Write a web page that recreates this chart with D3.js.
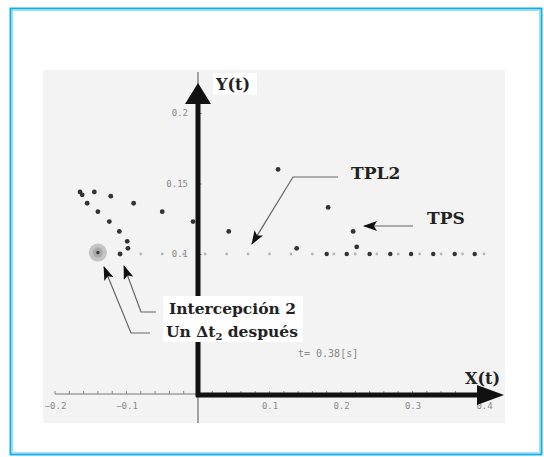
<!DOCTYPE html>
<html>
<head>
<meta charset="utf-8">
<script src="https://cdn.jsdelivr.net/npm/d3@7"></script>
<style>
  body { margin: 0; background: #fff; }
  .tick text { font-family: "DejaVu Sans Mono", monospace; fill: #8a8a8a; }
  .lbl { font-family: "DejaVu Serif", "Liberation Serif", serif; font-weight: bold; fill: #222; }
</style>
</head>
<body>
<script>
      // Width and height
      var w = 544;
      var h = 457;

      // tick values / labels
      var xTicks = [-0.2, -0.1, 0.1, 0.2, 0.3, 0.4];
      var yTicks = [0.1, 0.15, 0.2];
      var xMinor = [-0.2, -0.18, -0.16, -0.14, -0.12, -0.1, -0.08, -0.06, -0.04, -0.02,
                    0.02, 0.04, 0.06, 0.08, 0.1, 0.12, 0.14, 0.16, 0.18, 0.2, 0.22, 0.24, 0.26, 0.28, 0.3, 0.32, 0.34, 0.36];

      // scattered points (TPL2 trajectory samples)
      var ptsX = [-0.165, -0.162, -0.145, -0.122, -0.155, -0.090, -0.140, -0.050, -0.124, -0.007,
                  -0.110, -0.099, -0.098, -0.109, 0.043, 0.112, 0.182, 0.217, 0.222, 0.138];
      var ptsY = [0.144, 0.142, 0.144, 0.141, 0.136, 0.136, 0.130, 0.130, 0.123, 0.123,
                  0.116, 0.109, 0.104, 0.100, 0.116, 0.160, 0.133, 0.116, 0.105, 0.104];

      // light dotted line at y = 0.1
      var lineX = [-0.08, -0.05, -0.02, 0.01, 0.04, 0.07, 0.10, 0.13, 0.16, 0.19, 0.22,
                   0.25, 0.28, 0.31, 0.34, 0.37, 0.40];
      var lineY = 0.1;
      // TPS samples on the line
      var tpsX = [0.180, 0.208, 0.240, 0.269, 0.298, 0.329, 0.359, 0.387];

      // interception point
      var interX = -0.140, interY = 0.101;

      var x = d3.scaleLinear().domain([0, 0.1]).range([198, 269.5]);
      var y = d3.scaleLinear().domain([0, 0.2]).range([395, 113]);

      var svg = d3.select("body").append("svg")
          .attr("width", w)
          .attr("height", h);

      // frame
      svg.append("rect").attr("x", 10.5).attr("y", 8.5).attr("width", 531).attr("height", 446)
          .attr("fill", "#fff").attr("stroke", "#10aee6").attr("stroke-width", 2);
      svg.append("rect").attr("x", 12.5).attr("y", 10.5).attr("width", 527).attr("height", 442)
          .attr("fill", "none").attr("stroke", "#9ee0f6").attr("stroke-width", 1);

      // plot background
      svg.append("rect").attr("x", 43).attr("y", 70).attr("width", 462).attr("height", 353)
          .attr("fill", "#f3f3f3");

      var defs = svg.append("defs");
      defs.append("marker").attr("id", "ah")
          .attr("viewBox", "0 0 14 10").attr("refX", 13).attr("refY", 5)
          .attr("markerWidth", 14).attr("markerHeight", 10).attr("orient", "auto")
          .attr("markerUnits", "userSpaceOnUse")
        .append("path").attr("d", "M0,0L14,5L0,10L3,5z").attr("fill", "#111");

      // thin axis lines
      svg.append("line").attr("x1", x(-0.2)).attr("x2", x(0)).attr("y1", y(0) - 1).attr("y2", y(0) - 1)
          .attr("stroke", "#777").attr("stroke-width", 1);
      svg.append("line").attr("x1", x(0)).attr("x2", x(0)).attr("y1", 72).attr("y2", 423)
          .attr("stroke", "#888").attr("stroke-width", 1.5);

      // minor ticks on x
      svg.append("g").selectAll("line").data(xMinor).enter().append("line")
          .attr("x1", function(d) { return x(d); }).attr("x2", function(d) { return x(d); })
          .attr("y1", y(0) - 4).attr("y2", y(0) - 1)
          .attr("stroke", "#888").attr("stroke-width", 1);

      // axes tick labels
      var gx = svg.append("g").attr("transform", "translate(0," + (y(0) + 4) + ")")
          .call(d3.axisBottom(x).tickValues(xTicks).tickSize(0).tickPadding(4)
                .tickFormat(function(d) { return d3.format(".1f")(d); }));
      gx.select(".domain").remove();
      gx.selectAll("text").attr("font-size", 9);

      var gy = svg.append("g").attr("transform", "translate(" + x(0) + ",0)")
          .call(d3.axisLeft(y).tickValues(yTicks).tickSize(-4).tickPadding(10)
                .tickFormat(function(d) { return d === 0.15 ? "0.15" : d3.format(".1f")(d); }));
      gy.select(".domain").remove();
      gy.selectAll("line").attr("stroke", "#999");
      gy.selectAll("text").attr("font-size", 9);

      // dotted line y=0.1
      svg.append("g").selectAll("circle").data(lineX).enter().append("circle")
          .attr("cx", function(d) { return x(d); }).attr("cy", y(lineY))
          .attr("r", 1.4).attr("fill", "#b5b5b5");

      // interception halo
      svg.append("circle").attr("cx", x(interX)).attr("cy", y(interY)).attr("r", 9)
          .attr("fill", "#c4c4c4");
      svg.append("circle").attr("cx", x(interX)).attr("cy", y(interY)).attr("r", 5)
          .attr("fill", "#aaa");
      svg.append("circle").attr("cx", x(interX)).attr("cy", y(interY)).attr("r", 1.8)
          .attr("fill", "#444");

      // scattered points
      svg.append("g").selectAll("circle").data(d3.range(ptsX.length)).enter().append("circle")
          .attr("cx", function(i) { return x(ptsX[i]); })
          .attr("cy", function(i) { return y(ptsY[i]); })
          .attr("r", 2.4).attr("fill", "#333");

      svg.append("g").selectAll("circle").data(tpsX).enter().append("circle")
          .attr("cx", function(d) { return x(d); }).attr("cy", y(lineY))
          .attr("r", 2.2).attr("fill", "#333");

      // thick axes
      svg.append("line").attr("x1", x(0)).attr("x2", x(0)).attr("y1", 100).attr("y2", y(0) + 2)
          .attr("stroke", "#111").attr("stroke-width", 5);
      svg.append("path").attr("d", "M" + x(0) + ",83L" + (x(0) - 13) + ",104L" + (x(0) + 13) + ",104Z")
          .attr("fill", "#111");
      svg.append("line").attr("x1", x(0) - 2).attr("x2", 480).attr("y1", y(0)).attr("y2", y(0))
          .attr("stroke", "#111").attr("stroke-width", 5);
      svg.append("path").attr("d", "M504," + y(0) + "L477," + (y(0) - 10) + "L477," + (y(0) + 10) + "Z")
          .attr("fill", "#111");

      // labels
      function label(txt, lx, ly, size) {
        var t = svg.append("text").attr("class", "lbl").attr("x", lx).attr("y", ly)
            .attr("font-size", size).text(txt);
        return t;
      }
      svg.append("rect").attr("x", 213).attr("y", 73).attr("width", 44).attr("height", 22).attr("fill", "#fff");
      label("Y(t)", 216, 90, 16);
      label("X(t)", 465, 384, 16);
      label("TPL2", 351, 179, 17);
      label("TPS", 427, 224, 17);

      svg.append("rect").attr("x", 163).attr("y", 296).attr("width", 140).attr("height", 46).attr("fill", "#fff");
      label("Intercepción 2", 169, 314, 15.5);
      var t2 = label("Un ", 166, 337, 15.5);
      t2.append("tspan").text("Δt");
      t2.append("tspan").attr("font-size", 10).attr("dy", 3).text("2");
      t2.append("tspan").attr("dy", -3).text(" después");

      svg.append("text").attr("x", 298).attr("y", 357)
          .attr("font-family", "DejaVu Sans Mono, monospace").attr("font-size", 10)
          .attr("fill", "#888").text("t= 0.38[s]");

      // annotation arrows
      var ann = [
        [[338, 177], [293, 177], [252, 244]],
        [[413, 226], [364, 226]],
        [[156, 312], [141, 312], [124, 266]],
        [[150, 333], [131, 333], [104, 267]]
      ];
      svg.append("g").selectAll("path").data(ann).enter().append("path")
          .attr("d", d3.line())
          .attr("fill", "none").attr("stroke", "#666").attr("stroke-width", 1.2)
          .attr("marker-end", "url(#ah)");
</script>
</body>
</html>
